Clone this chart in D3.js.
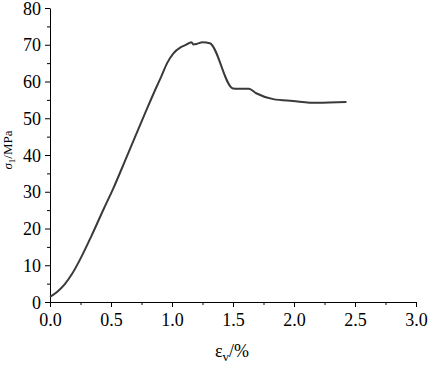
<!DOCTYPE html>
<html>
<head>
<meta charset="utf-8">
<script src="https://cdn.jsdelivr.net/npm/d3@7"></script>
<style>
  body { margin: 0; background: #fff; }
  svg { display: block; }
</style>
</head>
<body>
<svg id="chart" width="429" height="368"></svg>
<script>
// strain (%) and stress (MPa)
const strain = [0, 0.06, 0.12, 0.18, 0.25, 0.34, 0.44, 0.52, 0.62, 0.79, 0.87, 0.91, 0.96, 1.01,
  1.07, 1.11, 1.16, 1.175, 1.20, 1.25, 1.31, 1.50, 1.54, 1.63, 1.69, 1.83, 1.99, 2.19, 2.43];
const stress = [1.4, 2.8, 4.8, 7.6, 11.8, 18.0, 25.3, 31.0, 38.8, 52.2, 58.3, 61.2, 65.0, 67.6,
  69.3, 69.9, 70.7, 70.1, 70.2, 70.7, 70.4, 58.1, 58.0, 58.0, 56.8, 55.2, 54.7, 54.2, 54.4];

const xMajor = [0, 0.5, 1.0, 1.5, 2.0, 2.5, 3.0];
const yMajor = [0, 10, 20, 30, 40, 50, 60, 70, 80];

const FONT = '"Liberation Serif", "Times New Roman", serif';

const svg = d3.select('#chart');
const margin = { left: 50, right: 13, top: 8, bottom: 66 };
const W = 429, H = 368;

const x = d3.scaleLinear().domain([0, 3]).range([margin.left, W - margin.right]);
const y = d3.scaleLinear().domain([0, 80]).range([H - margin.bottom, margin.top]);

function styleAxis(g) {
  g.selectAll('path, line').attr('stroke', '#000').attr('stroke-width', 1);
  g.selectAll('text')
    .style('font-family', FONT)
    .style('font-size', '18px')
    .attr('fill', '#000');
}

// minor ticks (no labels)
svg.append('g')
  .attr('transform', `translate(0,${y(0)})`)
  .call(d3.axisBottom(x).tickValues(d3.range(0.25, 3, 0.5)).tickSize(3).tickFormat(''))
  .call(styleAxis)
  .select('.domain').remove();

svg.append('g')
  .attr('transform', `translate(${x(0)},0)`)
  .call(d3.axisLeft(y).tickValues(d3.range(5, 80, 10)).tickSize(3).tickFormat(''))
  .call(styleAxis)
  .select('.domain').remove();

const xAxis = svg.append('g')
  .attr('transform', `translate(0,${y(0)})`)
  .call(d3.axisBottom(x).tickValues(xMajor).tickSize(5).tickSizeOuter(0).tickFormat(d3.format('.1f')))
  .call(styleAxis);
xAxis.selectAll('text').attr('y', 9).attr('dy', '0.85em');

const yAxis = svg.append('g')
  .attr('transform', `translate(${x(0)},0)`)
  .call(d3.axisLeft(y).tickValues(yMajor).tickSize(5).tickSizeOuter(0))
  .call(styleAxis);
yAxis.selectAll('text').attr('x', -9).attr('dy', '0.34em');

// curve
const line = d3.line()
  .x((d, i) => x(strain[i]))
  .y(d => y(d))
  .curve(d3.curveMonotoneX);

svg.append('path')
  .datum(stress)
  .attr('d', line)
  .attr('fill', 'none')
  .attr('stroke', '#3a3a3a')
  .attr('stroke-width', 2)
  .attr('stroke-linejoin', 'round');

// axis titles
const xt = svg.append('text')
  .attr('x', 232)
  .attr('y', 357)
  .attr('text-anchor', 'middle')
  .style('font-family', FONT)
  .style('font-size', '18px');
xt.append('tspan').text('ε');
xt.append('tspan').attr('dy', 4).style('font-size', '13px').text('v');
xt.append('tspan').attr('dy', -4).text('/%');

const yt = svg.append('text')
  .attr('transform', 'translate(12,150) rotate(-90)')
  .attr('text-anchor', 'middle')
  .style('font-family', FONT)
  .style('font-size', '13px');
yt.append('tspan').style('font-style', 'italic').text('σ');
yt.append('tspan').attr('dy', 3).style('font-size', '9px').text('1');
yt.append('tspan').attr('dy', -3).text('/MPa');
</script>
</body>
</html>
